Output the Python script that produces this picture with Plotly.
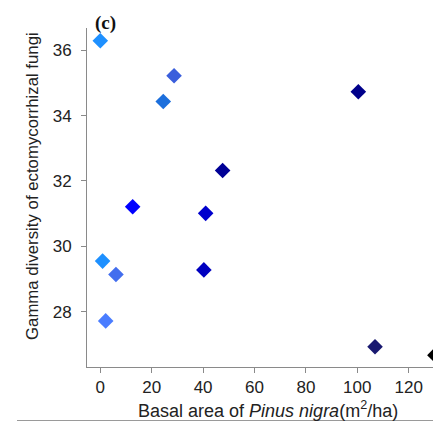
import plotly.graph_objects as go

# Data
basal_area = [0.0, 28.7, 24.5, 100.4, 47.6, 12.6, 41.0, 0.9, 6.1, 40.3, 2.1, 106.9, 130.2]
gamma_div = [36.29, 35.22, 34.43, 34.73, 32.32, 31.21, 31.01, 29.55, 29.14, 29.28, 27.72, 26.93, 26.67]
point_colors = ["#1E90FF", "#3A5EDC", "#1C6FDC", "#00008B", "#000096", "#0000FF",
                "#0000CD", "#1E90FF", "#436EEE", "#0000C0", "#4A7DFF", "#191970", "#000000"]
x_ticks = [0, 20, 40, 60, 80, 100, 120]
y_ticks = [28, 30, 32, 34, 36]

fig = go.Figure()
fig.add_trace(go.Scatter(
    x=basal_area, y=gamma_div, mode="markers",
    marker=dict(symbol="diamond", size=12, color=point_colors, line=dict(width=0)),
    showlegend=False,
))

axis_color = "#8a8a8a"
tick_font = dict(family="Liberation Sans, Arial, sans-serif", size=17, color="#222222")

# the page body has an 8px margin, so the figure is 8px smaller and margins are shifted
fig.update_layout(
    width=433, height=414,
    margin=dict(l=79, r=0, t=20, b=55),
    paper_bgcolor="white", plot_bgcolor="white",
    xaxis=dict(
        range=[-5.17, 132.57], tickvals=x_ticks, showgrid=False, zeroline=False,
        showline=True, linecolor=axis_color, linewidth=1,
        ticks="outside", ticklen=5, tickcolor=axis_color, tickfont=tick_font,
    ),
    yaxis=dict(
        range=[26.31, 36.68], tickvals=y_ticks, showgrid=False, zeroline=False,
        showline=True, linecolor=axis_color, linewidth=1,
        ticks="outside", ticklen=5, tickcolor=axis_color, tickfont=tick_font,
        ticklabelstandoff=6,
    ),
    annotations=[
        dict(text="<b>(c)</b>", xref="paper", yref="paper",
             x=(105 - 87) / 354, y=(367 - 23) / 339, xanchor="center", yanchor="middle",
             showarrow=False,
             font=dict(family="Liberation Serif, Times New Roman, serif", size=19, color="#111111")),
        dict(text="Gamma diversity of ectomycorrhizal fungi", xref="paper", yref="paper",
             x=(32 - 87) / 354, y=(367 - 186) / 339, xanchor="center", yanchor="middle",
             textangle=-90, showarrow=False,
             font=dict(family="Liberation Sans, Arial, sans-serif", size=16.8, color="#222222")),
        dict(text="Basal area of <i>Pinus nigra</i>(m<sup>2</sup>/ha)", xref="paper", yref="paper",
             x=(267.5 - 87) / 354, y=(367 - 409) / 339, xanchor="center", yanchor="middle",
             showarrow=False,
             font=dict(family="Liberation Sans, Arial, sans-serif", size=18, color="#222222")),
    ],
    shapes=[
        dict(type="line", xref="paper", yref="paper",
             x0=(17 - 87) / 354, x1=1, y0=(367 - 420.5) / 339, y1=(367 - 420.5) / 339,
             line=dict(color="#9a9a9a", width=1)),
    ],
)

fig.write_html("out.html")
